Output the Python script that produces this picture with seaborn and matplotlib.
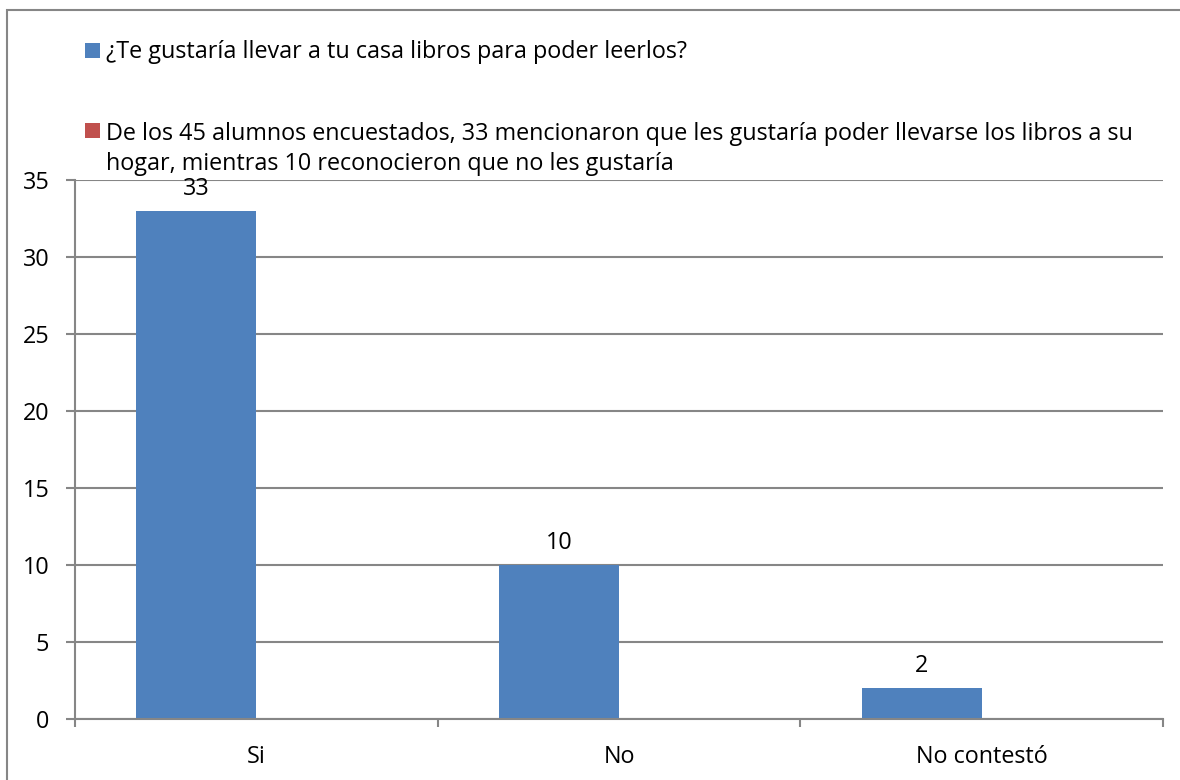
import matplotlib
matplotlib.use("Agg")
import matplotlib.pyplot as plt
from matplotlib.patches import Rectangle
import pandas as pd
import seaborn as sns

# datos de la encuesta
categorias = ["Si", "No", "No contestó"]
serie_pregunta = [33, 10, 2]
serie_nota = [None, None, None]  # la segunda serie no tiene valores
nombre_pregunta = "¿Te gustaría llevar a tu casa libros para poder leerlos?"
nombre_nota = ("De los 45 alumnos encuestados, 33 mencionaron que les gustaría poder llevarse los libros a su\n"
               "hogar, mientras 10 reconocieron que no les gustaría")
y_ticks = [0, 5, 10, 15, 20, 25, 30, 35]

colores = ["#4F81BD", "#C0504D"]
gris = "#868686"
fs = 16.8

df = pd.DataFrame({
    "categoria": categorias * 2,
    "valor": serie_pregunta + serie_nota,
    "serie": [nombre_pregunta] * 3 + [nombre_nota] * 3,
})
df["valor"] = df["valor"].astype(float)

sns.set_theme(style="white")
plt.rcParams["font.family"] = ["Open Sans", "DejaVu Sans"]
plt.rcParams["font.size"] = fs

fig = plt.figure(figsize=(11.8, 7.8), dpi=100)
W, H = 1180, 780

# borde del gráfico
fig.patches.append(Rectangle((7 / W, -0.1), 1.2, 1.1 - 10 / H, transform=fig.transFigure,
                             fill=False, edgecolor=gris, linewidth=1.5))

ax = fig.add_axes([75 / W, 61 / H, 1088 / W, 539 / H])
sns.barplot(data=df, x="categoria", y="valor", hue="serie",
            hue_order=[nombre_pregunta, nombre_nota], order=categorias,
            palette=colores, width=0.662, dodge=True, saturation=1,
            legend=False, ax=ax, edgecolor="none")

ax.bar_label(ax.containers[0], labels=[str(v) for v in serie_pregunta],
             padding=7, fontsize=fs, color="black")

ax.set_xlim(-0.5, 2.5)
ax.set_ylim(0, 35)
ax.set_yticks(y_ticks)
ax.set_yticklabels([str(t) for t in y_ticks])
ax.yaxis.grid(True, color=gris, linewidth=1.5)
ax.set_axisbelow(True)

# marcas en los límites de categoría, etiquetas en el centro
ax.set_xticks([-0.5, 0.5, 1.5, 2.5])
ax.set_xticklabels([])
ax.set_xticks([0, 1, 2], minor=True)
ax.set_xticklabels(categorias, minor=True)
ax.tick_params(axis="x", which="major", direction="out", length=6, width=1.5, color=gris, bottom=True)
ax.tick_params(axis="x", which="minor", length=0, pad=19, labelsize=fs, labelcolor="black")
ax.tick_params(axis="y", direction="out", length=6.5, width=1.5, color=gris, left=True,
               pad=12, labelsize=fs, labelcolor="black")

ax.set_xlabel("")
ax.set_ylabel("")
for lado in ["top", "right"]:
    ax.spines[lado].set_visible(False)
ax.spines["left"].set_color(gris)
ax.spines["left"].set_linewidth(1.5)
ax.spines["bottom"].set_color(gris)
ax.spines["bottom"].set_linewidth(1.5)

# leyenda al estilo de Excel (el cuadro va junto a la primera línea)
paso_linea = 32
entradas = [(nombre_pregunta, colores[0], 58), (nombre_nota, colores[1], 138)]
for texto, color, base in entradas:
    fig.patches.append(Rectangle((85 / W, 1 - base / H), 15 / W, 15 / H,
                                 transform=fig.transFigure, facecolor=color, edgecolor="none"))
    ultima = base + paso_linea * texto.count("\n")
    fig.text(106 / W, 1 - ultima / H, texto, ha="left", va="baseline", fontsize=fs,
             linespacing=1.36, color="black")

fig.savefig("out.png", dpi=100)
